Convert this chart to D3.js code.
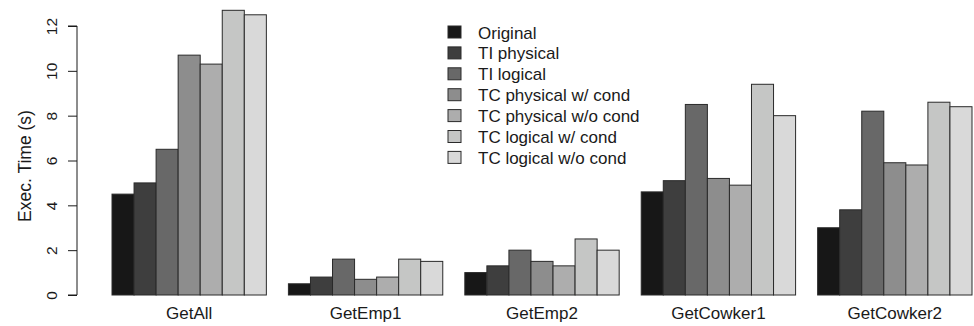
<!DOCTYPE html>
<html>
<head>
<meta charset="utf-8" />
<title>Exec. Time</title>
<script src="https://cdnjs.cloudflare.com/ajax/libs/d3/7.8.5/d3.min.js"></script>
<style>
body { margin: 0; background: #fff; }
text { font-family: "Liberation Sans", Arial, sans-serif; fill: #1a1a1a; }
</style>
</head>
<body>
<svg id="chart" width="974" height="326"></svg>
<script>
// data
const queries = ["GetAll", "GetEmp1", "GetEmp2", "GetCowker1", "GetCowker2"];
const variants = ["Original", "TI physical", "TI logical", "TC physical w/ cond",
	"TC physical w/o cond", "TC logical w/ cond", "TC logical w/o cond"];
const original = [4.5, 0.5, 1.0, 4.6, 3.0];
const tiPhysical = [5.0, 0.8, 1.3, 5.1, 3.8];
const tiLogical = [6.5, 1.6, 2.0, 8.5, 8.2];
const tcPhysCond = [10.7, 0.7, 1.5, 5.2, 5.9];
const tcPhysNoCond = [10.3, 0.8, 1.3, 4.9, 5.8];
const tcLogCond = [12.7, 1.6, 2.5, 9.4, 8.6];
const tcLogNoCond = [12.5, 1.5, 2.0, 8.0, 8.4];
const yTicks = [0, 2, 4, 6, 8, 10, 12];
const greys = ["#171717", "#3e3e3e", "#686868", "#8d8d8d", "#adadad", "#c5c6c5", "#d9d9d9"];

const series = [original, tiPhysical, tiLogical, tcPhysCond, tcPhysNoCond, tcLogCond, tcLogNoCond];

let svg = d3.select("#chart");

// bar units: 7 bars per group + 1 blank between groups
const nUnits = queries.length * variants.length + (queries.length - 1);
let x = d3.scaleLinear().domain([0, nUnits]).range([112, 972]);
let y = d3.scaleLinear().domain([0, 12]).range([295, 26]);

function barStart(q, v) {
	return q * (variants.length + 1) + v;
}

// bars
let groups = svg.append("g").attr("class", "bars");
series.forEach(function (vals, v) {
	groups.selectAll(null)
		.data(vals)
		.enter()
		.append("rect")
		.attr("x", (d, q) => x(barStart(q, v)))
		.attr("width", x(1) - x(0))
		.attr("y", d => y(d))
		.attr("height", d => y(0) - y(d))
		.attr("fill", greys[v])
		.attr("stroke", "#2a2a2a")
		.attr("stroke-width", 1);
});

// y axis
let axis = svg.append("g")
	.attr("transform", "translate(77,0)")
	.call(d3.axisLeft(y).tickValues(yTicks).tickSize(9).tickPadding(0).tickFormat(d3.format("d")));
axis.select(".domain").attr("stroke", "#1a1a1a").attr("d", "M-9," + y(12) + "H0V" + y(0) + "H-9");
axis.selectAll(".tick line").attr("stroke", "#1a1a1a");
axis.selectAll(".tick text")
	.attr("x", 0).attr("dy", null)
	.attr("transform", "translate(-20,0) rotate(-90)")
	.attr("text-anchor", "middle")
	.style("font-size", "15.5px")
	.style("fill", "#1a1a1a");

svg.append("text")
	.attr("transform", "translate(31,166) rotate(-90)")
	.attr("text-anchor", "middle")
	.style("font-size", "17.5px")
	.text("Exec. Time (s)");

// category labels
svg.append("g").selectAll("text")
	.data(queries)
	.enter()
	.append("text")
	.attr("x", (d, q) => x(barStart(q, 0) + variants.length / 2))
	.attr("y", 319)
	.attr("text-anchor", "middle")
	.style("font-size", "17px")
	.text(d => d);

// legend
let legend = svg.append("g").attr("class", "legend");
let rows = legend.selectAll("g")
	.data(variants)
	.enter()
	.append("g")
	.attr("transform", (d, i) => "translate(448," + (26 + i * 20.9) + ")");
rows.append("rect")
	.attr("width", 13).attr("height", 12)
	.attr("fill", (d, i) => greys[i])
	.attr("stroke", "#2a2a2a");
rows.append("text")
	.attr("x", 30).attr("y", 12.5)
	.style("font-size", "17px")
	.text(d => d);
</script>
</body>
</html>
